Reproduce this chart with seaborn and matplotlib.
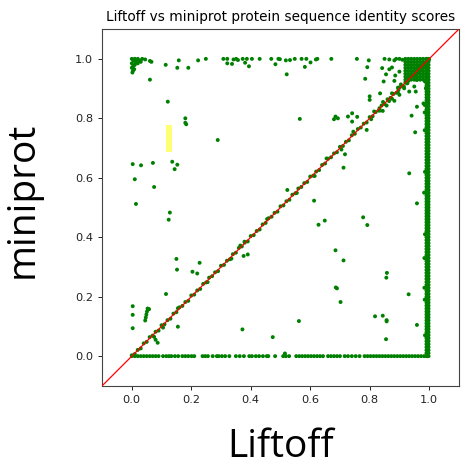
import itertools
import matplotlib
matplotlib.use("Agg")
import matplotlib.pyplot as plt
import numpy as np
import pandas as pd
import seaborn as sns

# ---------------- data ----------------
diag_x = [0.00, 0.01, 0.02, 0.03, 0.04, 0.05, 0.06, 0.07, 0.08, 0.09,
          0.10, 0.11, 0.12, 0.13, 0.14, 0.15, 0.16, 0.17, 0.18, 0.19,
          0.20, 0.21, 0.22, 0.23, 0.24, 0.25, 0.26, 0.27, 0.28, 0.29,
          0.30, 0.31, 0.32, 0.33, 0.34, 0.35, 0.36, 0.37, 0.38, 0.39,
          0.40, 0.41, 0.42, 0.43, 0.44, 0.45, 0.46, 0.47, 0.48, 0.49,
          0.50, 0.51, 0.52, 0.53, 0.54, 0.55, 0.56, 0.57, 0.58, 0.59,
          0.60, 0.61, 0.62, 0.63, 0.64, 0.65, 0.66, 0.67, 0.68, 0.69,
          0.70, 0.71, 0.72, 0.73, 0.74, 0.75, 0.76, 0.77, 0.78, 0.79,
          0.80, 0.81, 0.82, 0.83, 0.84, 0.85, 0.86, 0.87, 0.88, 0.89,
          0.90, 0.91, 0.92, 0.93, 0.94, 0.95, 0.96, 0.97, 0.98, 0.99, 1.00]
diag_y = [0.003, 0.007, 0.021, 0.026, 0.043, 0.048, 0.064, 0.069, 0.082, 0.086,
          0.104, 0.107, 0.121, 0.126, 0.143, 0.148, 0.164, 0.169, 0.182, 0.186,
          0.204, 0.207, 0.221, 0.226, 0.243, 0.248, 0.264, 0.269, 0.282, 0.286,
          0.304, 0.307, 0.321, 0.326, 0.343, 0.348, 0.364, 0.369, 0.382, 0.386,
          0.404, 0.407, 0.421, 0.426, 0.443, 0.448, 0.464, 0.469, 0.482, 0.486,
          0.504, 0.507, 0.521, 0.526, 0.543, 0.548, 0.564, 0.569, 0.582, 0.586,
          0.604, 0.607, 0.621, 0.626, 0.643, 0.648, 0.664, 0.669, 0.682, 0.686,
          0.704, 0.707, 0.721, 0.726, 0.743, 0.748, 0.764, 0.769, 0.782, 0.786,
          0.804, 0.807, 0.821, 0.826, 0.843, 0.848, 0.864, 0.869, 0.882, 0.886,
          0.904, 0.907, 0.921, 0.926, 0.943, 0.948, 0.964, 0.969, 0.982, 0.986, 0.998]

near_diag_x = [0.805, 0.815, 0.835, 0.845, 0.865, 0.875, 0.895, 0.905, 0.925,
               0.935, 0.955, 0.965, 0.985, 0.615, 0.655, 0.705, 0.745, 0.335, 0.365,
               0.105, 0.155, 0.255, 0.455, 0.555, 0.875, 0.895, 0.915]
near_diag_y = [0.797, 0.823, 0.826, 0.855, 0.858, 0.884, 0.887, 0.914, 0.918,
               0.945, 0.948, 0.975, 0.978, 0.606, 0.665, 0.695, 0.755, 0.328, 0.372,
               0.096, 0.161, 0.249, 0.461, 0.549, 0.866, 0.903, 0.907]

right_cols = [0.991, 0.998]
right_y = [0.00, 0.01, 0.02, 0.03, 0.04, 0.05, 0.06, 0.07, 0.08, 0.09,
           0.10, 0.11, 0.12, 0.13, 0.14, 0.15, 0.16, 0.17, 0.18, 0.19,
           0.20, 0.21, 0.22, 0.23, 0.24, 0.25, 0.26, 0.27, 0.28, 0.29,
           0.30, 0.31, 0.32, 0.33, 0.34, 0.35, 0.36, 0.37, 0.38, 0.39,
           0.40, 0.41, 0.42, 0.43, 0.44, 0.45, 0.46, 0.47, 0.48, 0.49,
           0.50, 0.51, 0.52, 0.53, 0.54, 0.55, 0.56, 0.57, 0.58, 0.59,
           0.60, 0.61, 0.62, 0.63, 0.64, 0.65, 0.66, 0.67, 0.68, 0.69,
           0.70, 0.71, 0.72, 0.73, 0.74, 0.75, 0.76, 0.77, 0.78, 0.79,
           0.80, 0.81, 0.82, 0.83, 0.84, 0.85, 0.86, 0.87, 0.88, 0.89,
           0.90, 0.91, 0.92, 0.93, 0.94, 0.95, 0.96, 0.97, 0.98, 0.99, 1.00]
right_bump_x = [0.985, 0.983, 0.986, 0.985, 0.984, 0.985, 0.981, 0.986, 0.984, 0.986]
right_bump_y = [0.76, 0.55, 0.62, 0.19, 0.23, 0.82, 0.85, 0.41, 0.33, 0.07]

corner_x = [0.92, 0.93, 0.94, 0.95, 0.96, 0.97, 0.98, 0.99]
corner_y = [0.93, 0.94, 0.95, 0.96, 0.97, 0.98, 0.99, 1.00]

bottom_x = [0.00, 0.01, 0.02, 0.03, 0.04, 0.05, 0.06, 0.07, 0.08, 0.09,
            0.105, 0.116, 0.125, 0.133, 0.145, 0.156, 0.17, 0.18, 0.19, 0.201,
            0.21, 0.238, 0.247, 0.256, 0.272, 0.286, 0.292, 0.303, 0.314, 0.328,
            0.35, 0.363, 0.377, 0.395, 0.404, 0.417, 0.428, 0.441, 0.454, 0.459,
            0.482, 0.509, 0.518, 0.529,
            0.553, 0.563, 0.573, 0.583, 0.593, 0.603, 0.613, 0.623, 0.633, 0.643,
            0.66, 0.67, 0.68, 0.69, 0.70, 0.716, 0.727, 0.74, 0.753, 0.766,
            0.783, 0.793, 0.803, 0.813, 0.823, 0.833, 0.843, 0.853, 0.863, 0.873,
            0.883, 0.893, 0.903, 0.913, 0.923, 0.933, 0.943, 0.953, 0.963, 0.973,
            0.983, 0.993]

top_x = [0.045, 0.061, 0.066, 0.158, 0.223, 0.249, 0.308, 0.321, 0.342, 0.351,
         0.357, 0.373, 0.387, 0.404, 0.43, 0.469, 0.493, 0.498, 0.518, 0.532,
         0.548, 0.571, 0.587, 0.619, 0.624, 0.671, 0.757, 0.797, 0.85, 0.866,
         0.883, 0.889, 0.90, 0.91]
top_y = [0.998, 0.993, 0.99, 0.995, 0.995, 1.0, 1.0, 1.0, 0.998, 1.0,
         0.996, 1.0, 1.0, 1.0, 1.0, 1.0, 1.0, 0.999, 0.995, 0.996,
         1.0, 1.0, 1.0, 0.998, 1.0, 1.0, 1.0, 0.995, 1.0, 0.998,
         0.995, 1.0, 1.0, 0.997]

left_x = [0.0, 0.005, 0.01, 0.015, 0.02, 0.025, 0.03, 0.0, 0.005, 0.01,
          0.0, 0.02, 0.002, 0.035, 0.008, 0.012, 0.004]
left_y = [1.0, 0.995, 1.0, 0.99, 1.0, 0.995, 0.99, 0.985, 0.975, 0.98,
          0.97, 0.985, 0.954, 1.0, 0.965, 0.99, 0.96]

other_x = [0.061, 0.114, 0.153, 0.19, 0.321, 0.337, 0.381, 0.394, 0.483, 0.521,
           0.582, 0.601, 0.792, 0.785, 0.121, 0.18, 0.18, 0.183, 0.289, 0.003,
           0.031, 0.071, 0.136, 0.153, 0.144, 0.01, 0.075, 0.014, 0.128, 0.124,
           0.15, 0.152, 0.228, 0.204, 0.22, 0.115, 0.003, 0.003, 0.003, 0.155,
           0.372, 0.376, 0.39, 0.379, 0.474, 0.045, 0.047, 0.049, 0.051, 0.053,
           0.058, 0.075, 0.08, 0.087, 0.565, 0.68, 0.685, 0.693, 0.727, 0.741,
           0.741, 0.758, 0.79, 0.833, 0.844, 0.941, 0.953, 0.959, 0.985, 0.717,
           0.712, 0.523, 0.613, 0.628, 0.649, 0.778, 0.792, 0.685, 0.712, 0.686,
           0.69, 0.702, 0.858, 0.856, 0.931, 0.562, 0.818, 0.844, 0.857, 0.857,
           0.959, 0.855, 0.515, 0.933, 0.959, 0.80, 0.80, 0.835, 0.857, 0.927,
           0.916, 0.95, 0.933, 0.955, 0.986, 0.989, 0.883, 0.90, 0.897, 0.855,
           0.886, 0.90, 0.842, 0.866, 0.875, 0.847, 0.883, 0.922, 0.958, 0.967]
other_y = [0.93, 0.98, 0.97, 0.97, 0.985, 0.983, 0.987, 0.975, 0.982, 0.948,
           0.973, 0.988, 0.972, 0.933, 0.856, 0.80, 0.785, 0.78, 0.727, 0.646,
           0.642, 0.65, 0.654, 0.644, 0.629, 0.595, 0.569, 0.512, 0.483, 0.459,
           0.327, 0.291, 0.314, 0.284, 0.278, 0.209, 0.168, 0.139, 0.094, 0.099,
           0.09, 0.337, 0.342, 0.385, 0.064, 0.12, 0.13, 0.14, 0.15, 0.16,
           0.158, 0.065, 0.055, 0.045, 0.798, 0.797, 0.806, 0.80, 0.806, 0.817,
           0.789, 0.805, 0.761, 0.834, 0.825, 0.809, 0.753, 0.839, 0.845, 0.679,
           0.634, 0.559, 0.523, 0.442, 0.456, 0.467, 0.441, 0.356, 0.322, 0.231,
           0.228, 0.182, 0.28, 0.264, 0.208, 0.118, 0.134, 0.136, 0.121, 0.117,
           0.105, 0.057, 0.009, 0.615, 0.514, 0.874, 0.862, 0.884, 0.843, 0.918,
           0.901, 0.907, 0.89, 0.89, 0.924, 0.901, 0.859, 0.879, 0.896, 0.948,
           0.944, 0.957, 0.969, 0.965, 0.971, 0.924, 0.926, 0.929, 0.929, 0.957]

highlight_x = [0.114, 0.136]
highlight_y = [0.688, 0.778]

ticks = [0.0, 0.2, 0.4, 0.6, 0.8, 1.0]

# ---------------- build table ----------------
frames = [
    pd.DataFrame({"Liftoff": diag_x, "miniprot": diag_y}),
    pd.DataFrame({"Liftoff": near_diag_x, "miniprot": near_diag_y}),
    pd.DataFrame({"Liftoff": bottom_x, "miniprot": [0.0] * len(bottom_x)}),
    pd.DataFrame({"Liftoff": top_x, "miniprot": top_y}),
    pd.DataFrame({"Liftoff": left_x, "miniprot": left_y}),
    pd.DataFrame({"Liftoff": other_x, "miniprot": other_y}),
    pd.DataFrame({"Liftoff": right_bump_x, "miniprot": right_bump_y}),
]
for cx in right_cols:
    frames.append(pd.DataFrame({"Liftoff": [cx] * len(right_y), "miniprot": right_y}))
grid = list(itertools.product(corner_x, corner_y))
frames.append(pd.DataFrame(grid, columns=["Liftoff", "miniprot"]))
df = pd.concat(frames, ignore_index=True)

# ---------------- plot ----------------
sns.set_style("ticks")
plt.rcParams["font.family"] = ["DejaVu Sans"]
plt.rcParams["text.color"] = "black"
plt.rcParams["axes.labelcolor"] = "black"
plt.rcParams["xtick.color"] = "black"
plt.rcParams["ytick.color"] = "black"

fig = plt.figure(figsize=(4.77, 4.70), dpi=100)
ax = fig.add_axes([0.214, 0.179, 0.748, 0.759])

sns.scatterplot(data=df, x="Liftoff", y="miniprot", color="green", s=8,
                edgecolor="none", linewidth=0, ax=ax, zorder=2)
ax.fill_between(highlight_x, highlight_y[0], highlight_y[1],
                color="yellow", alpha=0.55, linewidth=0, zorder=1)
ax.axline((0, 0), slope=1, color="red", linewidth=0.9, zorder=3)

ax.set_xlim(-0.1, 1.1)
ax.set_ylim(-0.1, 1.1)
ax.set_xticks(ticks)
ax.set_yticks(ticks)
ax.set_xticklabels([f"{t:.1f}" for t in ticks])
ax.set_yticklabels([f"{t:.1f}" for t in ticks])
ax.tick_params(labelsize=8.2, length=3, width=0.7, colors="#222222")
for sp in ax.spines.values():
    sp.set_visible(True)
    sp.set_linewidth(0.8)
    sp.set_color("#444444")

ax.set_title("Liftoff vs miniprot protein sequence identity scores",
             fontsize=9.8, pad=6, color="black")
ax.set_xlabel("Liftoff", fontsize=28, family="Open Sans", color="black")
ax.xaxis.set_label_coords(0.5, -0.118)
ax.set_ylabel("miniprot", fontsize=28, family="Open Sans", color="black")
ax.yaxis.set_label_coords(-0.17, 0.52)

fig.savefig("out.png", dpi=100)
